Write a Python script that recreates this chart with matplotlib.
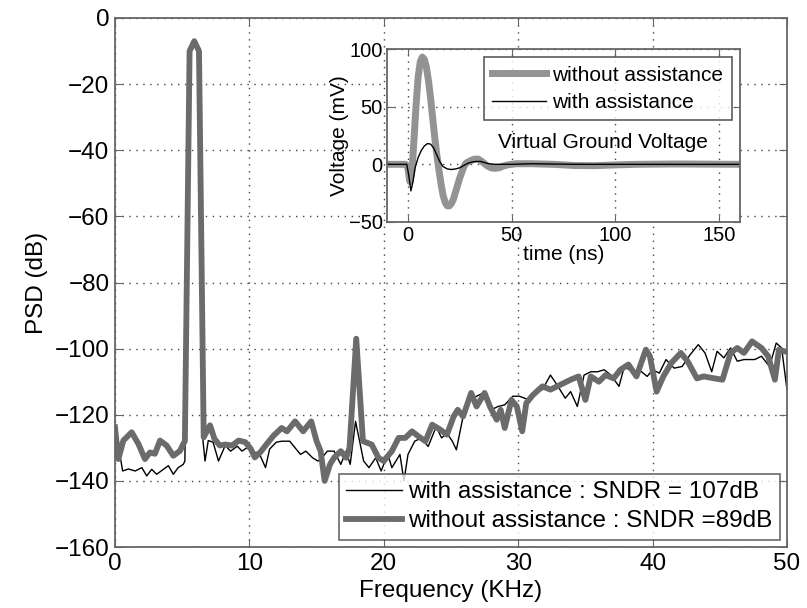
import matplotlib as mpl

mpl.use("Agg")
import matplotlib.pyplot as plt

plt.rcParams["font.family"] = ["Liberation Sans", "DejaVu Sans"]

# PSD with assistance (thin black)
f_with = [0.0, 0.57, 1.0, 1.5, 2.0, 2.36, 2.73, 3.1, 3.6, 3.97, 4.34, 4.7, 5.08,
          5.2, 5.55, 5.9, 6.25, 6.55,
          6.7, 6.94, 7.3, 7.7, 8.2, 8.6, 9.1, 9.45, 9.8, 10.3, 10.7, 11.2, 11.5,
          12.0, 12.4, 13.0, 13.4, 13.8, 14.2, 14.7, 15.1, 15.4, 15.8, 16.3, 16.8,
          17.2, 17.5, 17.9, 18.5, 18.9, 19.4, 19.8, 20.3, 20.6, 21.2, 21.5, 21.8,
          22.3, 22.8, 23.3, 23.9, 24.3, 24.7, 25.1, 25.4, 26.0, 26.4, 26.9, 27.4,
          28.0, 28.5, 29.0, 29.6, 30.1, 30.8, 31.3, 31.8, 32.4, 32.9, 33.5, 33.9,
          34.4, 34.9, 35.4, 35.9, 36.4, 36.9, 37.5, 37.9, 38.5, 39.0, 39.6, 40.0,
          40.5, 41.0, 41.6, 42.2, 42.8, 43.4, 43.9, 44.4, 44.8, 45.3, 45.8, 46.3,
          46.8, 47.6, 48.1, 48.7, 49.2, 49.6, 50.0]
psd_with = [-123.5, -137, -136.4, -137, -136, -138.5, -136.5, -138, -136.5, -135.4,
            -138, -136, -135,
            -134, -11, -8, -11, -128,
            -134, -127.8, -128.3, -134, -129.3, -131, -129.5, -131, -130, -131.4,
            -131.4, -136, -130.4,
            -128.3, -128, -128, -130, -132, -131, -133, -134, -133, -131, -131, -135,
            -131, -135, -122, -134, -136, -133, -137, -132, -136, -132, -140, -132,
            -128, -127, -129.6, -123.6, -127, -125.6, -128, -130.6, -118.5, -115.5,
            -114.4, -113.4,
            -118.5, -117.5, -117, -114.4, -114.4, -115.5, -113.4, -112.4, -108, -111,
            -115, -113,
            -117.5, -108, -107, -107, -106.4, -108, -111.4, -105.4, -107, -106.4,
            -108.4, -106.4,
            -107.4, -103.3, -105.9, -105.4, -101.8, -98.8, -101.3, -107, -100.8,
            -102.8, -99.8, -103.8,
            -103.3, -103.3, -102.3, -105.4, -98.3, -99.8, -112.4]

# PSD without assistance (thick grey)
f_without = [0.0, 0.25, 0.62, 1.24, 1.74, 2.23, 2.6, 2.97, 3.35, 3.84, 4.34, 4.84,
             5.08, 5.2, 5.55, 5.9, 6.25, 6.6,
             7.07, 7.4, 7.8, 8.2, 8.7, 9.2, 9.7, 10.1, 10.4, 10.8, 11.3, 11.8, 12.4,
             12.8, 13.4, 14.0, 14.6, 15.0, 15.3, 15.6, 16.0, 16.3, 16.8, 17.2, 17.45,
             17.95, 18.45, 19.1, 19.6, 20.0, 20.6, 21.1, 21.6, 22.1, 22.6, 23.1,
             23.6, 24.2, 24.7, 25.2, 25.5, 25.9, 26.5, 26.9, 27.5, 27.9, 28.4, 28.7,
             29.0, 29.5, 29.9, 30.3, 30.6, 31.1, 31.8, 32.4, 33.1, 33.9, 34.5, 35.0,
             35.4, 36.0, 36.5, 37.1, 37.6, 38.2, 38.8, 39.5, 39.8, 40.3, 40.8, 41.4,
             42.1, 42.6, 43.3, 43.8, 44.6, 45.2, 45.8, 46.3, 46.8, 47.4, 48.1, 48.6,
             49.1, 49.4, 49.8, 50.0]
psd_without = [-123.8, -133.4, -127.8, -125.3, -128.8, -133.4, -131.4, -131.8,
               -127.8, -129.3, -132.4, -130.9,
               -128.8, -128, -10, -7, -10, -126.8,
               -123.2, -127.3, -129.3, -129, -129.3, -127.8, -128.3, -130.3, -132.9,
               -131.4, -128.8, -126.3, -124,
               -125, -122, -125, -122, -128, -131, -140, -135, -133, -131, -133, -130,
               -97, -128, -129, -133, -134, -131, -127, -127, -125, -126.6, -128,
               -123, -124.5, -126, -120.5, -118.5, -120.5, -113.4, -117.5, -113.4,
               -117.5, -121.5, -118.5,
               -124, -115.5, -117.5, -125, -116.5, -114, -111.4, -112.4, -111, -109.4,
               -108.4, -115.5,
               -108.4, -110, -108, -109, -106.4, -104.8, -108.4, -100.3, -102.3, -113,
               -108.4, -104.3,
               -101.3, -103.8, -109, -108.4, -109, -109.4, -101.3, -99.8, -101.3,
               -97.8, -99.8, -102.3,
               -109.4, -100.3, -100.8, -101]

# Virtual ground voltage transient (inset)
t_without = [-10, -1, 0, 1, 2, 3, 4, 5, 6, 7, 8, 9, 10, 11, 12, 13, 14, 15, 16, 17,
             18, 19, 20, 21, 22, 23, 24, 25, 26, 27, 28, 30, 32, 34, 36, 38, 40, 42,
             44, 46, 48, 52, 60, 70, 80, 90, 100, 110, 130, 160]
v_without = [0, 0, -3, -15, -6, 22, 52, 76, 89, 93, 91, 84, 72, 57, 40, 23, 8, -5,
             -17, -27, -33, -36, -36, -34, -30, -24, -18, -12, -7, -2, 1, 3, 4.5, 4.5,
             2, -1, -3, -3.5, -3, -1.5, -0.5, 0.5, 0.5, 0, -1, -1.2, -0.5, 0, 0.3, 0]
t_with = [-10, -0.5, 0.5, 1.5, 2.5, 3.5, 5, 6.5, 8, 9.5, 11, 12.5, 14, 15.5, 17, 19,
          21, 23, 25, 27, 29, 31, 33, 35, 37, 39, 42, 50, 60, 80, 100, 130, 160]
v_with = [0, 0, -10, -23, -15, -3, 6, 12, 16, 18, 17.5, 14, 8, 2, -2, -4, -4.5, -4,
          -3, -1, 1, 2, 2.5, 2.5, 1.5, 0.5, 0, 0, 0.5, 0, 0, 0, 0]

GREY = "#6b6b6b"
GREY_INSET = "#939393"
FRAME = "#666666"

fig = plt.figure(figsize=(8.07, 6.08), dpi=100)

# main PSD axes
ax = fig.add_axes([0.1425, 0.1003, 0.8327, 0.8701])
ax.plot(f_with, psd_with, color="black", lw=1.0,
        label="with assistance : SNDR = 107dB")
ax.plot(f_without, psd_without, color=GREY, lw=4.2,
        label="without assistance : SNDR =89dB")
ax.set_xlim(0, 50)
ax.set_ylim(-160, 0)
ax.set_xticks(range(0, 51, 10))
ax.set_yticks(range(-160, 1, 20))
ax.grid(True, linestyle=(0, (1, 4)), color="#444444", lw=1.0)
ax.tick_params(direction="in", top=True, right=True, labelsize=17.5, length=6,
               color=FRAME, pad=4)
for s in ax.spines.values():
    s.set_color(FRAME)
    s.set_linewidth(1.3)
ax.set_xlabel("Frequency (KHz)", fontsize=17.5, labelpad=4)
ax.set_ylabel("PSD (dB)", fontsize=17.5, labelpad=5)
leg = ax.legend(loc="lower right", fontsize=17.5, frameon=True, fancybox=False,
                edgecolor="#444444", handlelength=2.3, borderaxespad=0.3,
                borderpad=0.3, labelspacing=0.3, handletextpad=0.25)
leg.get_frame().set_linewidth(1.2)

# inset: virtual ground voltage
axi = fig.add_axes([0.4796, 0.6349, 0.4374, 0.2845])
axi.plot(t_without, v_without, color=GREY_INSET, lw=5.0, label="without assistance")
axi.plot(t_with, v_with, color="black", lw=1.0, label="with assistance")
axi.set_xlim(-10, 160)
axi.set_ylim(-50, 100)
axi.set_xticks([0, 50, 100, 150])
axi.set_yticks([-50, 0, 50, 100])
axi.grid(True, linestyle=(0, (1, 4)), color="#444444", lw=1.0)
axi.tick_params(direction="in", top=True, right=True, labelsize=14.5, length=5,
                color=FRAME, pad=3)
for s in axi.spines.values():
    s.set_color(FRAME)
    s.set_linewidth(1.3)
axi.set_xlabel("time (ns)", fontsize=15, labelpad=0)
axi.set_ylabel("Voltage (mV)", fontsize=15, labelpad=0)
legi = axi.legend(loc="upper right", fontsize=15, frameon=True, fancybox=False,
                  edgecolor="#333333", handlelength=2.6, borderaxespad=0.4,
                  borderpad=0.4, labelspacing=0.4, handletextpad=0.3)
legi.get_frame().set_linewidth(1.2)
axi.text(0.612, 0.462, "Virtual Ground Voltage", transform=axi.transAxes,
         ha="center", va="center", fontsize=15)

fig.savefig("out.png", dpi=100)
